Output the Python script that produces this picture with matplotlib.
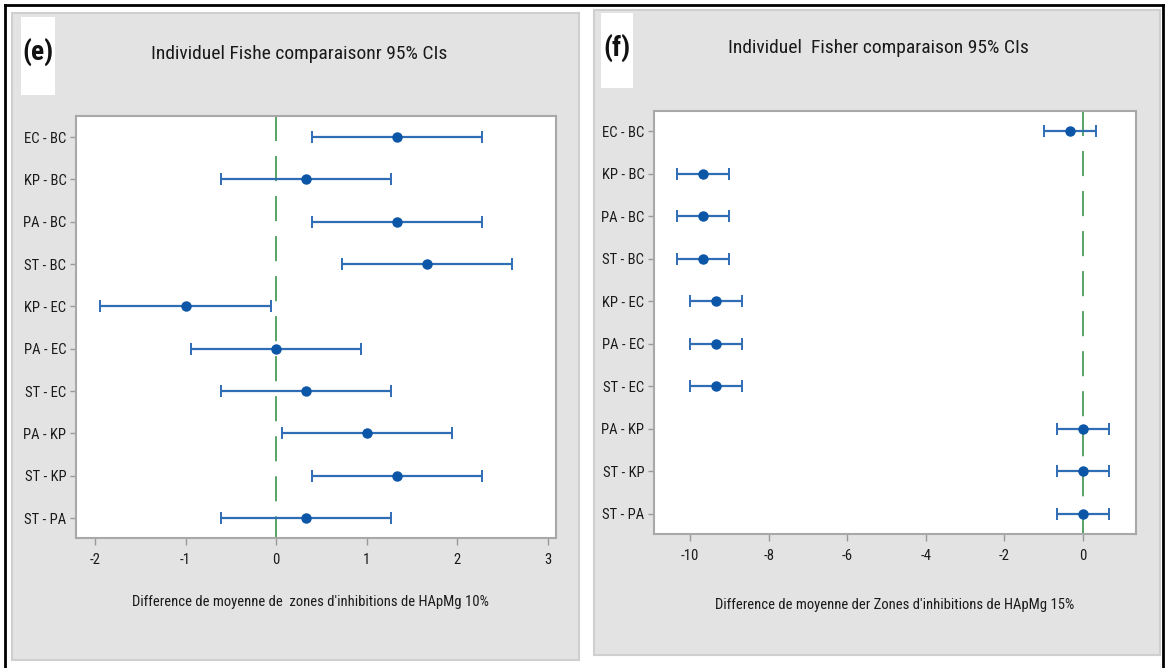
import matplotlib
matplotlib.use("Agg")
import matplotlib.pyplot as plt
from matplotlib.patches import Rectangle
from matplotlib.lines import Line2D

plt.rcParams['font.family'] = ['Liberation Sans Narrow', 'Roboto Condensed', 'DejaVu Sans']

# Pairwise comparisons (same order in both panels)
comparisons = ["EC - BC", "KP - BC", "PA - BC", "ST - BC", "KP - EC",
               "PA - EC", "ST - EC", "PA - KP", "ST - KP", "ST - PA"]

# Panel (e): HApMg 10 %
diff_10 = [1.333, 0.333, 1.333, 1.667, -1.0, 0.0, 0.333, 1.0, 1.333, 0.333]
half_ci_10 = [0.94] * 10

# Panel (f): HApMg 15 %
diff_15 = [-0.333, -9.667, -9.667, -9.667, -9.333, -9.333, -9.333, 0.0, 0.0, 0.0]
half_ci_15 = [0.66] * 10

xticks_10 = [-2, -1, 0, 1, 2, 3]
xticks_15 = [-10, -8, -6, -4, -2, 0]

W, H = 1166, 668
fig = plt.figure(figsize=(W / 100, H / 100), dpi=100)
fig.patch.set_facecolor("white")


def fx(px):
    return px / W


def fy(py):
    return 1 - py / H


def panel_box(x0, y0, x1, y1):
    fig.patches.append(Rectangle((fx(x0), fy(y1)), fx(x1) - fx(x0), fy(y0) - fy(y1),
                                 transform=fig.transFigure, facecolor="#e3e3e3",
                                 edgecolor="#cfcfcf", linewidth=1.5, zorder=-3))


def tag_box(x0, y0, x1, y1, label):
    fig.patches.append(Rectangle((fx(x0), fy(y1)), fx(x1) - fx(x0), fy(y0) - fy(y1),
                                 transform=fig.transFigure, facecolor="white",
                                 edgecolor="none", zorder=-2))
    fig.text(fx((x0 + x1) / 2), fy(y0 + 35), label, ha="center", va="center",
             fontsize=20, fontweight="bold", color="#111111")


# Outer black frame
for (xa, ya, xb, yb) in [(5, 5, 1163, 5), (5, 5, 5, 668), (1163, 5, 1163, 668)]:
    fig.add_artist(Line2D([fx(xa), fx(xb)], [fy(ya), fy(yb)], color="black",
                          linewidth=2, transform=fig.transFigure))

panel_box(12, 13, 579, 660)
panel_box(594, 10, 1160, 655)
tag_box(21, 17, 55, 95, "(e)")
tag_box(601, 13, 633, 88, "(f)")


def draw_panel(rect, diffs, halves, xlim, ylim, xticks, title, title_xy, xlabel, xlabel_xy):
    ax = fig.add_axes(rect)
    ax.set_facecolor("white")
    ypos = list(range(len(comparisons)))
    # zero reference line, drawn top-down so the dash pattern starts at the top
    ax.plot([0, 0], [ylim[1], ylim[0]], color="#2a8a3a", linewidth=1.1,
            dashes=(16.4, 9.8), zorder=1)
    ax.errorbar(diffs, ypos, xerr=halves, fmt="o", color="#0b56a6",
                ecolor="#2f6db5", elinewidth=1.6, capsize=4, capthick=1.4,
                markersize=6.5, zorder=3)
    ax.set_xlim(*xlim)
    ax.set_ylim(*ylim)
    ax.set_yticks(ypos)
    ax.set_yticklabels(comparisons)
    ax.set_xticks(xticks)
    ax.set_xticklabels([str(t) for t in xticks])
    for s in ax.spines.values():
        s.set_color("#a8a8a8")
        s.set_linewidth(1.5)
    ax.tick_params(axis="both", colors="#999999", labelcolor="#1a1a1a",
                   labelsize=10.5, width=1.0)
    ax.tick_params(axis="x", length=5, pad=6)
    ax.tick_params(axis="y", length=4, pad=3)
    fig.text(fx(title_xy[0]), fy(title_xy[1]), title, ha="center", va="center",
             fontsize=14, color="#1a1a1a")
    fig.text(fx(xlabel_xy[0]), fy(xlabel_xy[1]), xlabel, ha="center", va="center",
             fontsize=10.5, color="#1a1a1a")
    return ax


draw_panel([fx(76), fy(538), fx(556) - fx(76), fy(116) - fy(538)],
           diff_10, half_ci_10, (-2.21, 3.09), (9.47, -0.5), xticks_10,
           "Individuel Fishe comparaisonr 95% CIs", (299, 54),
           "Difference de moyenne de  zones d'inhibitions de HApMg 10%", (310, 602))

draw_panel([fx(654), fy(534), fx(1136) - fx(654), fy(111) - fy(534)],
           diff_15, half_ci_15, (-10.92, 1.35), (9.47, -0.47), xticks_15,
           "Individuel  Fisher comparaison 95% CIs", (878, 48),
           "Difference de moyenne der Zones d'inhibitions de HApMg 15%", (895, 605))

fig.savefig("out.png", dpi=100)
